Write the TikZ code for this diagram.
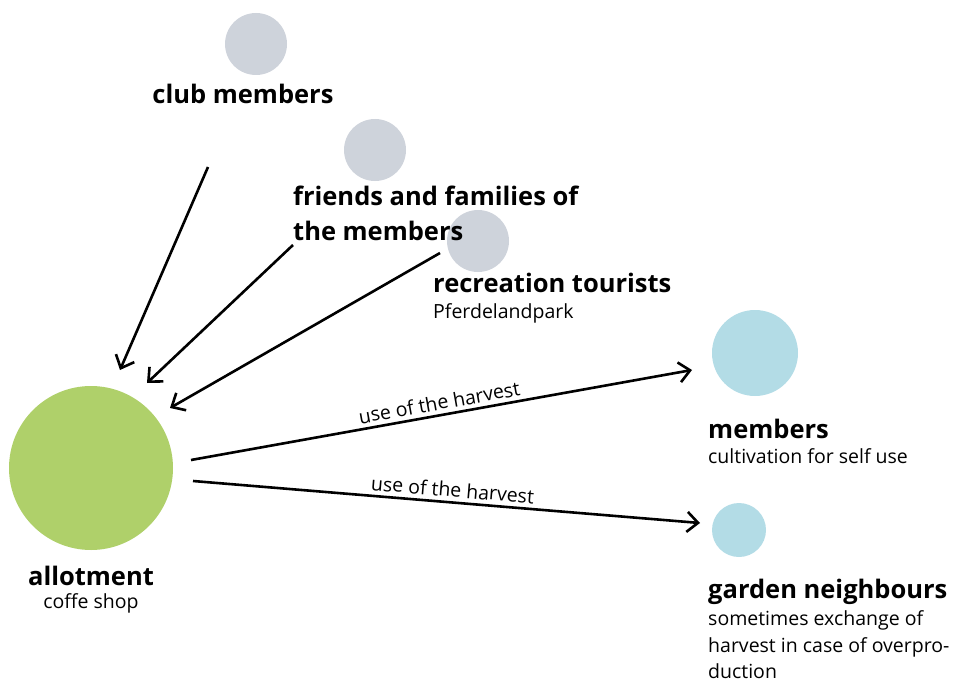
\documentclass[tikz,border=0pt]{standalone}
\usepackage{fontspec}
\setmainfont{Open Sans}
\usetikzlibrary{arrows.meta}
\definecolor{greyc}{HTML}{CED3DB}
\definecolor{bluec}{HTML}{B3DCE6}
\definecolor{greenc}{HTML}{AFD06A}
\tikzset{
  dot/.style={circle, inner sep=0pt, draw=none},
  greydot/.style={dot, fill=greyc, minimum size=62pt},
  title/.style={font=\fontsize{25.5}{30}\selectfont\bfseries, inner sep=0pt},
  sub/.style={font=\fontsize{19.5}{26}\selectfont, inner sep=0pt},
  conn/.style={line width=2.6pt, -{Straight Barb[length=11pt,width=20pt,line width=2.6pt]}},
  edgelab/.style={font=\fontsize{19.5}{22}\selectfont, inner sep=4pt, sloped, above}
}
\begin{document}
\begin{tikzpicture}[x=1pt,y=-1pt]
\useasboundingbox (0,0) rectangle (955,682);
% circles
\node[greydot] (club) at (256,44) {};
\node[greydot] (friends) at (375,150) {};
\node[greydot] (recr) at (478,241) {};
\node[dot, fill=bluec, minimum size=86pt] (memb) at (755,353) {};
\node[dot, fill=bluec, minimum size=54pt] (neigh) at (739,530) {};
\node[dot, fill=greenc, minimum size=164pt] (allot) at (91,468) {};
% labels
\node[title, anchor=base] (clubt) at (243,104) {club members};
\node[title, anchor=base west, align=left] (friendst) at (293,205) {friends and families of};
\node[title, anchor=base west] (friendst2) at (293,240) {the members};
\node[title, anchor=base west] (recrt) at (433,292) {recreation tourists};
\node[sub, anchor=base west] (recrs) at (433,318) {Pferdelandpark};
\node[title, anchor=base west] (membt) at (708,438) {members};
\node[sub, anchor=base west] (membs) at (708,463) {cultivation for self use};
\node[title, anchor=base west] (neight) at (708,598) {garden neighbours};
\node[sub, anchor=base west] (neighs1) at (708,625) {sometimes exchange of};
\node[sub, anchor=base west] (neighs2) at (708,652) {harvest in case of overpro-};
\node[sub, anchor=base west] (neighs3) at (708,678) {duction};
\node[title, anchor=base] (allott) at (91,585) {allotment};
\node[sub, anchor=base] (allots) at (91,608) {coffe shop};
% connector endpoints
\coordinate (c1s) at (208,167);
\coordinate (c1e) at (120,370);
\coordinate (c2s) at (293,245);
\coordinate (c2e) at (147,383);
\coordinate (c3s) at (440,253);
\coordinate (c3e) at (170,408);
\coordinate (h1s) at (191,460);
\coordinate (h1e) at (692,370);
\coordinate (h2s) at (193,481);
\coordinate (h2e) at (700,523);
\draw[conn] (c1s) -- (c1e);
\draw[conn] (c2s) -- (c2e);
\draw[conn] (c3s) -- (c3e);
\draw[conn] (h1s) -- node[edgelab, pos=0.5] {use of the harvest} (h1e);
\draw[conn] (h2s) -- node[edgelab, pos=0.51] {use of the harvest} (h2e);
\end{tikzpicture}
\end{document}
